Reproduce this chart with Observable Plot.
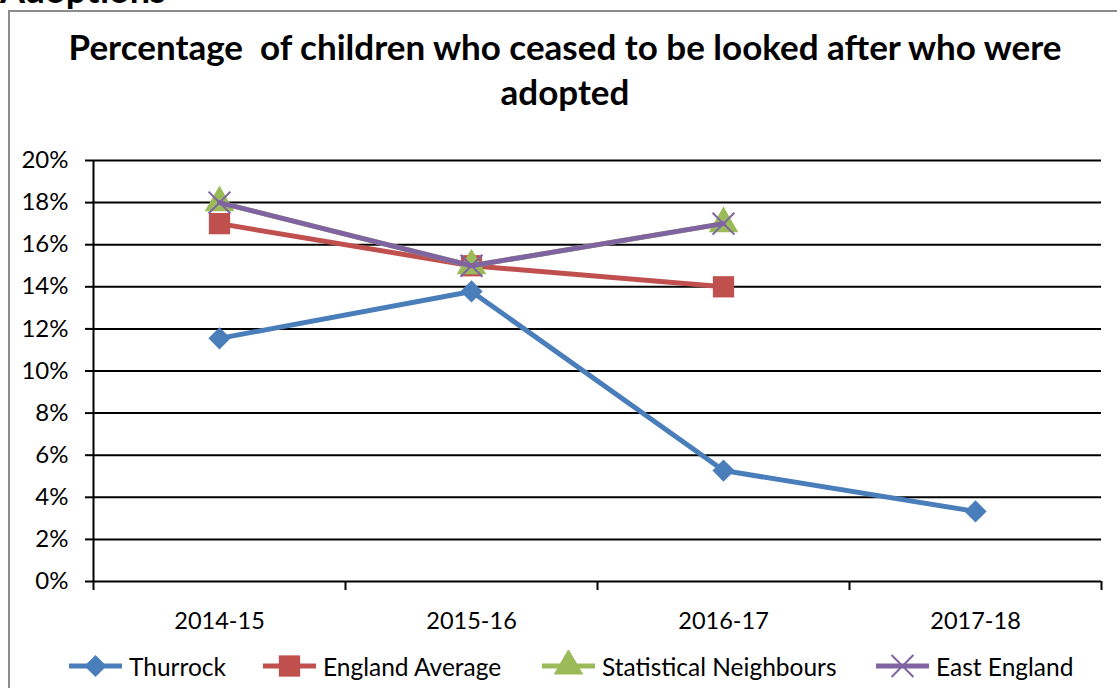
<!DOCTYPE html>
<html>
<head>
<meta charset="utf-8">
<script src="https://cdn.jsdelivr.net/npm/d3@7"></script>
<script src="https://cdn.jsdelivr.net/npm/@observablehq/plot@0.6"></script>
<style>
  html, body { margin: 0; padding: 0; background: #fff; overflow: hidden; }
  body { width: 1117px; height: 688px; position: relative; font-family: Lato, "Open Sans", sans-serif; color: #000; }
  #section { position: absolute; left: 0; top: -31px; font-weight: bold; font-size: 36px; line-height: 40px; }
  #box { position: absolute; left: 8px; top: 10px; width: 1120px; height: 700px; border: 2px solid #8c8c8c; box-sizing: border-box; }
  #title { position: absolute; left: 0; top: 24px; width: 1130px; text-align: center; font-weight: bold; font-size: 35px; line-height: 45px; white-space: pre-wrap; }
  #chart { position: absolute; left: 0; top: 140px; }
  #legend { position: absolute; left: 0; top: 650px; width: 1117px; height: 32px; font-size: 24.5px; }
  .item { position: absolute; top: 0; display: flex; align-items: center; height: 32px; }
  .item svg { margin-right: 7px; }
</style>
</head>
<body>
<div id="section">Adoptions</div>
<div id="box"></div>
<div id="title">Percentage  of children who ceased to be looked after who were
adopted</div>
<div id="chart"></div>
<div id="legend"></div>
<script>
// Reporting years on the x axis
const years = ["2014-15", "2015-16", "2016-17", "2017-18"];

// Share of children leaving care who were adopted (null = not yet published)
const thurrock = [0.1155, 0.1378, 0.0527, 0.0333];
const englandAverage = [0.17, 0.15, 0.14, null];
const statisticalNeighbours = [0.18, 0.15, 0.17, null];
const eastEngland = [0.18, 0.15, 0.17, null];

// y-axis ticks
const yTicks = [0, 0.02, 0.04, 0.06, 0.08, 0.10, 0.12, 0.14, 0.16, 0.18, 0.20];

const series = [
  {name: "Thurrock", values: thurrock, color: "#4a7ebb", symbol: "diamond2", r: 10},
  {name: "England Average", values: englandAverage, color: "#c0504d", symbol: "square", r: 12},
  {name: "Statistical Neighbours", values: statisticalNeighbours, color: "#9bbb59", symbol: "triangle", r: 11},
  {name: "East England", values: eastEngland, color: "#8064a2", symbol: "times", r: 10}
];

const rows = series.flatMap(s =>
  s.values.map((v, i) => ({series: s.name, i, v})).filter(d => d.v != null)
);

const seriesMarks = series.flatMap(s => {
  const data = rows.filter(d => d.series === s.name);
  const dot = s.symbol === "times"
    ? Plot.dot(data, {x: "i", y: "v", symbol: () => "times", r: s.r, stroke: s.color, strokeWidth: 2})
    : Plot.dot(data, {x: "i", y: "v", symbol: () => s.symbol, r: s.r, fill: s.color, stroke: "none"});
  return [
    Plot.line(data, {x: "i", y: "v", stroke: s.color, strokeWidth: 5}),
    dot
  ];
});

const chart = Plot.plot({
  width: 1117,
  height: 505,
  marginLeft: 93,
  marginRight: 16,
  marginTop: 20,
  marginBottom: 64,
  style: {fontFamily: "Lato, 'Open Sans', sans-serif", fontSize: "24px", color: "#000", background: "transparent", overflow: "visible"},
  x: {type: "linear", domain: [-0.5, 3.5], axis: null},
  y: {domain: [0, 0.2], axis: null},
  symbol: {type: "identity"},
  marks: [
    Plot.gridY(yTicks, {stroke: "#000", strokeOpacity: 1, strokeWidth: 2}),
    Plot.axisY({ticks: yTicks, tickFormat: d3.format(".0%"), tickSize: 8, tickPadding: 17, fontSize: 24, stroke: "#000", strokeWidth: 2, label: null}),
    Plot.ruleX([-0.5], {stroke: "#000", strokeWidth: 2}),
    Plot.axisX({ticks: [-0.5, 0.5, 1.5, 2.5, 3.5], tickFormat: () => "", tickSize: 9, stroke: "#000", strokeWidth: 2, label: null}),
    Plot.axisX({ticks: [0, 1, 2, 3], tickFormat: i => years[i], tickSize: 0, tickPadding: 31, fontSize: 23.5, label: null}),
    ...seriesMarks
  ]
});
document.getElementById("chart").appendChild(chart);

// Legend: line sample with the series marker, then the name
const legendLeft = [69, 263, 542, 876];
const legend = d3.select("#legend");
series.forEach((s, k) => {
  const item = legend.append("div").attr("class", "item").style("left", legendLeft[k] + "px");
  const sw = item.append("svg").attr("width", 53).attr("height", 32);
  sw.append("line").attr("x1", 0).attr("x2", 53).attr("y1", 16).attr("y2", 16)
    .attr("stroke", s.color).attr("stroke-width", 5);
  const size = Math.PI * s.r * s.r;
  const sym = {diamond2: d3.symbolDiamond2, square: d3.symbolSquare, triangle: d3.symbolTriangle, times: d3.symbolTimes}[s.symbol];
  const p = sw.append("path").attr("transform", "translate(26.5,16)").attr("d", d3.symbol(sym, size)());
  if (s.symbol === "times") p.attr("fill", "none").attr("stroke", s.color).attr("stroke-width", 2);
  else p.attr("fill", s.color);
  item.append("span").text(s.name);
});
</script>
</body>
</html>
